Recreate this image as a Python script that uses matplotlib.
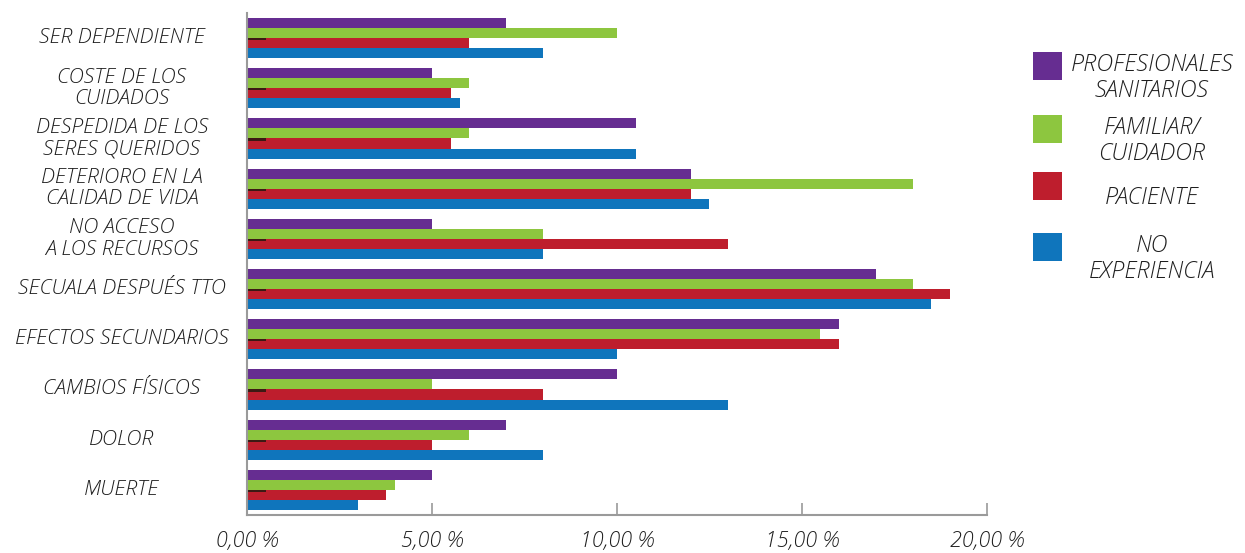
"""Horizontal grouped bar chart of concerns by respondent group."""

import matplotlib.pyplot as plt
from matplotlib.patches import Rectangle
from matplotlib.ticker import FixedLocator, FuncFormatter

categories = [
    "SER DEPENDIENTE",
    "COSTE DE LOS\nCUIDADOS",
    "DESPEDIDA DE LOS\nSERES QUERIDOS",
    "DETERIORO EN LA\nCALIDAD DE VIDA",
    "NO ACCESO\nA LOS RECURSOS",
    "SECUALA DESPUÉS TTO",
    "EFECTOS SECUNDARIOS",
    "CAMBIOS FÍSICOS",
    "DOLOR",
    "MUERTE",
]

profesionales = [7.0, 5.0, 10.5, 12.0, 5.0, 17.0, 16.0, 10.0, 7.0, 5.0]
familiar = [10.0, 6.0, 6.0, 18.0, 8.0, 18.0, 15.5, 5.0, 6.0, 4.0]
paciente = [6.0, 5.5, 5.5, 12.0, 13.0, 19.0, 16.0, 8.0, 5.0, 3.75]
no_experiencia = [8.0, 5.75, 10.5, 12.5, 8.0, 18.5, 10.0, 13.0, 8.0, 3.0]
# short dark stub drawn over the start of each red bar
stub = [0.5] * len(categories)

series_labels = [
    "PROFESIONALES\nSANITARIOS",
    "FAMILIAR/\nCUIDADOR",
    "PACIENTE",
    "NO\nEXPERIENCIA",
]
colors = ["#662D91", "#8DC63F", "#BE1E2D", "#0F75BC"]

FONT = "Open Sans"
TEXT_COLOR = "#1e1e1e"

fig = plt.figure(figsize=(12.45, 5.53), dpi=100)
ax = fig.add_axes([247 / 1245, 1 - 515 / 553, 740 / 1245, 502 / 553])

h = 0.2
offsets = [-0.3, -0.1, 0.1, 0.3]
ypos = list(range(len(categories)))
for vals, off, col in zip(
    [profesionales, familiar, paciente, no_experiencia], offsets, colors
):
    ax.barh([y + off for y in ypos], vals, height=h, color=col, linewidth=0)

ax.barh([y + 0.1 - 0.08 for y in ypos], stub, height=0.04,
        color="#3d1a14", linewidth=0)

ax.set_xlim(0, 20)
ax.set_ylim(9.5, -0.5)

for side in ("top", "right"):
    ax.spines[side].set_visible(False)
for side in ("left", "bottom"):
    ax.spines[side].set_color("#9a9a9a")
    ax.spines[side].set_linewidth(1.5)

ax.xaxis.set_major_locator(FixedLocator([0, 5, 10, 15, 20]))
ax.xaxis.set_major_formatter(
    FuncFormatter(lambda v, _: f"{v:.2f}".replace(".", ",") + " %")
)
ax.tick_params(axis="x", direction="in", length=9, width=1.2,
               color="#9a9a9a", pad=11)
for lbl in ax.get_xticklabels():
    lbl.set_fontfamily(FONT)
    lbl.set_fontstyle("italic")
    lbl.set_fontweight("light")
    lbl.set_fontsize(15.5)
    lbl.set_color(TEXT_COLOR)

ax.set_yticks([])
for y, name in zip(ypos, categories):
    ax.text(-0.169, y, name, transform=ax.get_yaxis_transform(),
            ha="center", va="center", multialignment="center",
            fontfamily=FONT, fontstyle="italic", fontweight="light",
            fontsize=15.2, color=TEXT_COLOR, linespacing=1.1)

# legend: colour squares with centred labels
legend_y = [66, 129, 186, 247]
for label, col, yc in zip(series_labels, colors, legend_y):
    fig.patches.append(Rectangle(
        (1033 / 1245, 1 - (yc + 14) / 553), 29 / 1245, 28 / 553,
        transform=fig.transFigure, facecolor=col, edgecolor="none"))
    fig.text(1152 / 1245, 1 - (yc + 12) / 553, label,
             ha="center", va="center", multialignment="center",
             fontfamily=FONT, fontstyle="italic", fontweight="light",
             fontsize=16.8, color=TEXT_COLOR, linespacing=1.1)

fig.savefig("out.png", dpi=100)
